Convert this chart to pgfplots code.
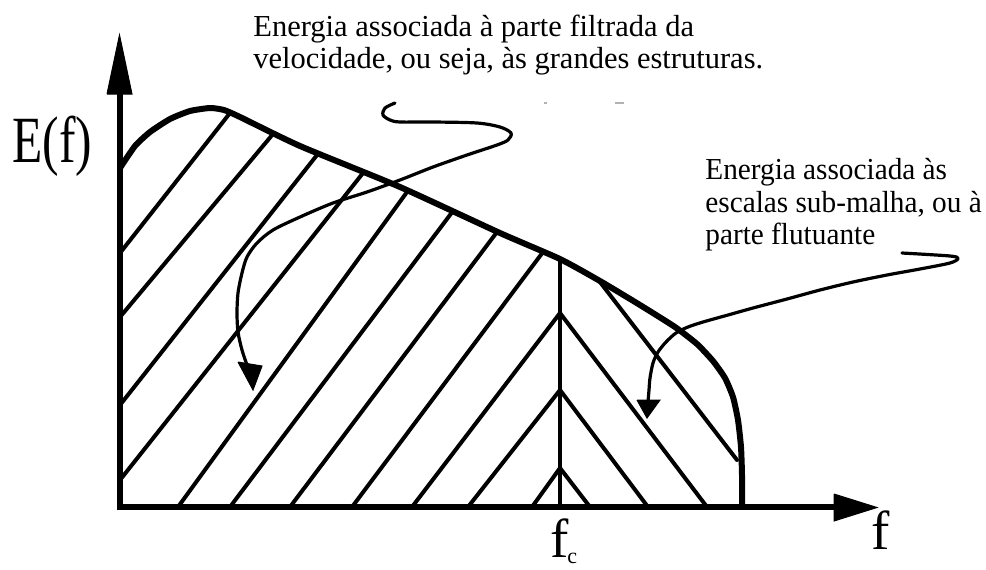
\documentclass[border=0pt]{standalone}
\usepackage{pgfplots}
\pgfplotsset{compat=1.18}
\usepackage{fontspec}
\setmainfont{Liberation Serif}
\newcommand\annot{\fontsize{15.25}{16.5}\selectfont}
\begin{document}
\begin{tikzpicture}
\useasboundingbox (0,0) rectangle (493pt,284.5pt);
\begin{axis}[
  at={(0,0)}, anchor=south west,
  width=493pt, height=284.5pt, scale only axis,
  hide axis, clip=false,
  xmin=0, xmax=986, ymin=0, ymax=569, y dir=reverse,
  hatch/.style={black, line width=2pt, line cap=round},
  note/.style={black, line width=1.6pt, line cap=round, line join=round},
]
% hatching of the resolved part (left of f_c)
\addplot[hatch] coordinates {(532,507) (560,468)};
\addplot[hatch] coordinates {(468,507) (560,390)};
\addplot[hatch] coordinates {(412,507) (560,313)};
\addplot[hatch] coordinates {(352,507) (543,252)};
\addplot[hatch] coordinates {(290,507) (497,232)};
\addplot[hatch] coordinates {(230,507) (453,211)};
\addplot[hatch] coordinates {(178,507) (407,192)};
\addplot[hatch] coordinates {(120,480) (363,173)};
\addplot[hatch] coordinates {(120,405) (317,155)};
\addplot[hatch] coordinates {(120,317) (273,134)};
\addplot[hatch] coordinates {(120,253) (230,113)};
% hatching of the sub-grid part (right of f_c)
\addplot[hatch] coordinates {(560,468) (590,507)};
\addplot[hatch] coordinates {(560,390) (648,507)};
\addplot[hatch] coordinates {(560,313) (707,507)};
\addplot[hatch] coordinates {(600,282) (737,460)};
% cut-off frequency
\addplot[black, line width=1.7pt] coordinates {(560,259) (560,507)};
% energy spectrum
\addplot[black, line width=3pt, line join=round, smooth, tension=0.35] coordinates {
  (120,168) (135,146) (150,132) (170,119) (190,111) (210,108) (224,110)
  (240,117) (300,146) (400,187) (500,233) (560,259) (600,281) (640,305)
  (675,327) (697,344) (713,361) (725,378) (733,397) (738,420) (741,447)
  (742,475) (742,507)};
% axes
\addplot[black, line width=3pt] coordinates {(120,510) (120,90)};
\addplot[black, fill=black, line width=0.5pt] coordinates {(107,94) (132,94) (119.5,35) (107,94)};
\addplot[black, line width=3pt] coordinates {(117,507) (838,507)};
\addplot[black, fill=black, line width=0.5pt] coordinates {(834,494) (834,521) (877,507.5) (834,494)};
% annotation arrow: resolved scales
\addplot[note, smooth, tension=0.5] coordinates {
  (395,103) (385,108) (383,115) (390,120) (400,122) (433,122) (477,123)
  (500,127) (511,133) (508,140) (497,145) (467,155) (433,167) (400,180)
  (367,192) (333,203) (300,217) (273,230) (257,243) (247,257) (242,273)
  (238,293) (237,313) (238,332) (242,350) (247,365)};
\addplot[black, fill=black, line width=0.5pt] coordinates {(238,362) (262,366) (253,390) (238,362)};
% annotation arrow: sub-grid scales
\addplot[note, smooth, tension=0.5] coordinates {
  (902,253) (950,256) (958,258.5) (950,263) (920,269) (887,275) (853,282)
  (820,290) (787,299) (753,308) (728,315) (703,322) (688,327) (676,333)
  (666,342) (658,352) (653,363) (650,378) (649,390) (648,402)};
\addplot[black, fill=black, line width=0.5pt] coordinates {(637,400) (660,400) (647,418) (637,400)};
% faint specks
\addplot[gray!60, line width=0.6pt] coordinates {(544,103) (547,103)};
\addplot[gray!60, line width=0.8pt] coordinates {(615,103) (624,103)};
% labels
\node[anchor=base west, inner sep=0, font=\annot] at (axis cs:253,36) {Energia associada à parte filtrada da};
\node[anchor=base west, inner sep=0, font=\annot] at (axis cs:253,68) {velocidade, ou seja, às grandes estruturas.};
\node[anchor=base west, inner sep=0, xscale=0.96, font=\annot] at (axis cs:705,179) {Energia associada às};
\node[anchor=base west, inner sep=0, xscale=0.96, font=\annot] at (axis cs:705,212) {escalas sub-malha, ou à};
\node[anchor=base west, inner sep=0, xscale=0.96, font=\annot] at (axis cs:705,244) {parte flutuante};
\node[anchor=base west, inner sep=0, xscale=0.75, font=\fontsize{33}{36}\selectfont] at (axis cs:12,162) {E(f)};
\node[anchor=base west, inner sep=0, font=\fontsize{27.5}{30}\selectfont] at (axis cs:550,557) {f};
\node[anchor=base west, inner sep=0, font=\fontsize{11}{13}\selectfont] at (axis cs:567,563) {c};
\node[anchor=base west, inner sep=0, font=\fontsize{27.5}{30}\selectfont] at (axis cs:871,549) {f};
\end{axis}
\end{tikzpicture}
\end{document}
